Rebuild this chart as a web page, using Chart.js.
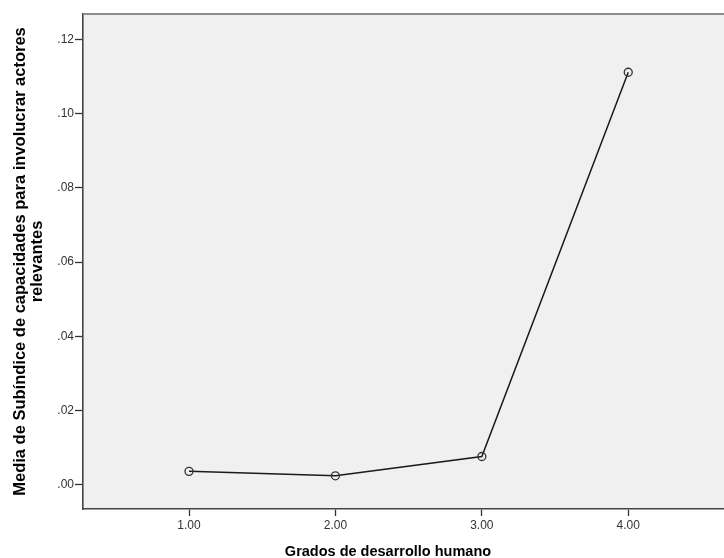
<!DOCTYPE html>
<html>
<head>
<meta charset="utf-8">
<script src="https://cdn.jsdelivr.net/npm/chart.js@4/dist/chart.umd.min.js"></script>
<style>
  html, body { margin: 0; padding: 0; background: #fff; }
  #wrap { width: 724px; height: 558px; }
</style>
</head>
<body>
<div id="wrap"><canvas id="chart" width="724" height="558"></canvas></div>
<script>
const grados = [1, 2, 3, 4];
const medias = [0.0036, 0.0024, 0.0076, 0.1112];
const xTicks = [1, 2, 3, 4];
const yTicks = [0, 0.02, 0.04, 0.06, 0.08, 0.10, 0.12];

const yTitle = ['Media de Subíndice de capacidades para involucrar actores', 'relevantes'];
const xTitle = 'Grados de desarrollo humano';

const fmtY = (v) => v.toFixed(2).replace(/^0/, '');

// fondo gris del área del gráfico, borde superior y títulos de ejes
const spssFrame = {
  id: 'spssFrame',
  beforeDraw(chart) {
    const { ctx, chartArea: a } = chart;
    ctx.save();
    ctx.fillStyle = '#f0f0f0';
    ctx.fillRect(a.left, a.top, a.right - a.left, a.bottom - a.top);
    ctx.restore();
  },
  afterDraw(chart) {
    const { ctx, chartArea: a } = chart;
    ctx.save();
    ctx.strokeStyle = '#8c8c8c';
    ctx.lineWidth = 2;
    ctx.beginPath();
    ctx.moveTo(a.left, a.top);
    ctx.lineTo(a.right, a.top);
    ctx.stroke();

    ctx.fillStyle = '#000';
    ctx.textAlign = 'center';
    ctx.font = 'bold 14.5px "Liberation Sans", Arial, sans-serif';
    ctx.textBaseline = 'alphabetic';
    ctx.fillText(xTitle, 388, 556);

    ctx.font = 'bold 16.5px "Liberation Sans", Arial, sans-serif';
    ctx.textBaseline = 'middle';
    const cy = (a.top + a.bottom) / 2;
    ctx.translate(20, cy);
    ctx.rotate(-Math.PI / 2);
    ctx.fillText(yTitle[0], 0, 0);
    ctx.fillText(yTitle[1], 0, 17);
    ctx.restore();
  }
};

new Chart(document.getElementById('chart'), {
  type: 'line',
  data: {
    datasets: [{
      data: grados.map((g, i) => ({ x: g, y: medias[i] })),
      borderColor: '#1a1a1a',
      borderWidth: 1.5,
      pointRadius: 4,
      pointBorderWidth: 1.3,
      pointBorderColor: '#333',
      pointBackgroundColor: 'rgba(0,0,0,0)',
      tension: 0,
      fill: false
    }]
  },
  options: {
    responsive: false,
    animation: false,
    layout: { autoPadding: false, padding: { top: 14, right: 0, left: 0, bottom: 0 } },
    plugins: { legend: { display: false }, tooltip: { enabled: false } },
    scales: {
      x: {
        type: 'linear',
        min: 0.276,
        max: 4.654,
        afterBuildTicks: (s) => { s.ticks = xTicks.map((v) => ({ value: v })); },
        afterFit: (s) => { s.height = 49; },
        ticks: {
          callback: (v) => v.toFixed(2),
          color: '#333',
          font: { family: '"Liberation Sans", Arial, sans-serif', size: 12 },
          padding: 2,
          maxRotation: 0
        },
        grid: { drawOnChartArea: false, drawTicks: true, tickLength: 7, color: '#333', tickWidth: 1.3 },
        border: { display: true, color: '#444', width: 1.6 }
      },
      y: {
        min: -0.00655,
        max: 0.1269,
        afterBuildTicks: (s) => { s.ticks = yTicks.map((v) => ({ value: v })); },
        afterFit: (s) => { s.width = 83; },
        ticks: {
          callback: (v) => fmtY(v),
          color: '#333',
          font: { family: '"Liberation Sans", Arial, sans-serif', size: 12 },
          padding: 1
        },
        grid: { drawOnChartArea: false, drawTicks: true, tickLength: 8, color: '#333', tickWidth: 1.3 },
        border: { display: true, color: '#444', width: 1.6 }
      }
    }
  },
  plugins: [spssFrame]
});
</script>
</body>
</html>
